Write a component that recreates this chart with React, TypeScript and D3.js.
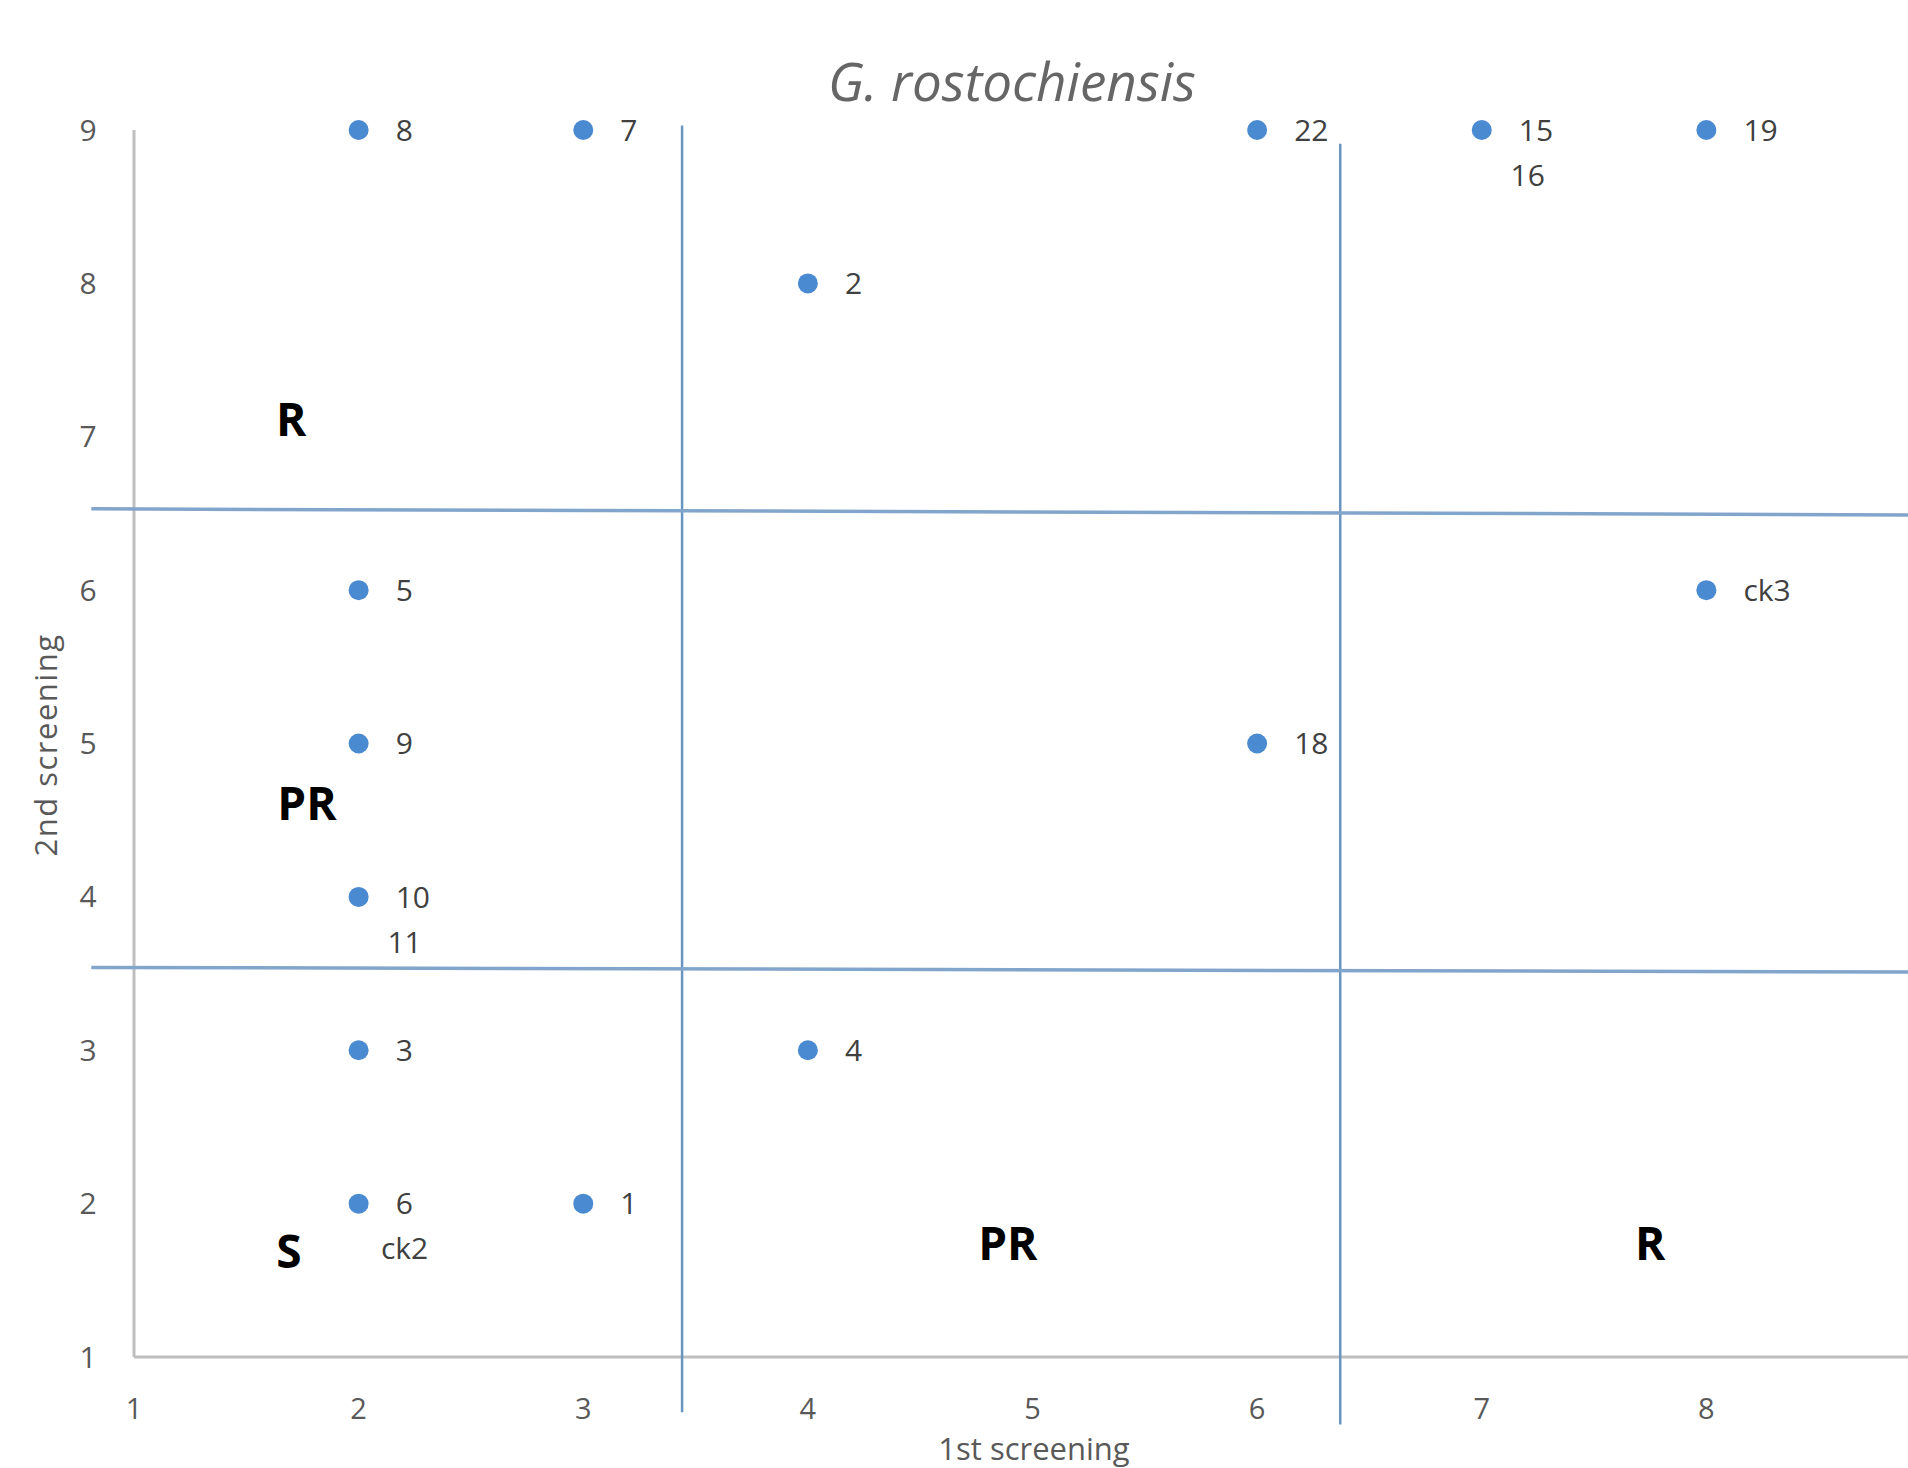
import React from "react";
import * as d3 from "d3";

const title = "G. rostochiensis";
const xTitle = "1st screening";
const yTitle = "2nd screening";

const pointX = [2, 3, 6, 7, 7, 8, 4, 2, 8, 2, 6, 2, 2, 2, 4, 2, 2, 3];
const pointY = [9, 9, 9, 9, 9, 9, 8, 6, 6, 5, 5, 4, 4, 3, 3, 2, 2, 2];
const pointLabels = ["8", "7", "22", "15", "16", "19", "2", "5", "ck3", "9", "18", "10", "11", "3", "4", "6", "ck2", "1"];

const xTicks = [1, 2, 3, 4, 5, 6, 7, 8];
const yTicks = [1, 2, 3, 4, 5, 6, 7, 8, 9];

// hand-drawn dividing lines (data coordinates)
const vLineX = [3.44, 6.37];
const vLineY0 = [0.64, 0.56];
const vLineY1 = [9.03, 8.91];
const hLineY0 = [6.53, 3.54];
const hLineY1 = [6.49, 3.51];

const regionLabels = ["R", "PR", "S", "PR", "R"];
const regionX = [1.7, 1.77, 1.69, 4.89, 7.75];
const regionY = [7.11, 4.61, 1.69, 1.74, 1.74];

const W = 1908;
const H = 1468;
const FONT = "'Open Sans', 'DejaVu Sans', sans-serif";

export default function App() {
  const x = d3.scaleLinear().domain([1, 9]).range([134, 1931]);
  const y = d3.scaleLinear().domain([1, 9]).range([1357, 130]);

  // group overlapping points so stacked labels go below
  const seen = new Map<string, number>();
  const pts = pointX.map((px, i) => {
    const key = px + "," + pointY[i];
    const n = seen.get(key) ?? 0;
    seen.set(key, n + 1);
    return { x: px, y: pointY[i], label: pointLabels[i], idx: n };
  });

  return (
    <svg width={W} height={H} style={{ position: "absolute", left: 0, top: 0, background: "#fff" }}>
      <rect width={W} height={H} fill="#fff" />
      {/* axes */}
      <line x1={x(1)} x2={x(1)} y1={y(9)} y2={y(1)} stroke="#bfbfbf" strokeWidth={3} />
      <line x1={x(1)} x2={W} y1={y(1)} y2={y(1)} stroke="#bfbfbf" strokeWidth={3} />
      {/* quadrant lines */}
      {vLineX.map((v, i) => (
        <line key={"v" + i} x1={x(v)} x2={x(v)} y1={y(vLineY1[i])} y2={y(vLineY0[i])} stroke="#6a95c0" strokeWidth={2.5} />
      ))}
      {hLineY0.map((v, i) => (
        <line key={"h" + i} x1={x(0.81)} x2={x(9)} y1={y(v)} y2={y(hLineY1[i])} stroke="#82a6cb" strokeWidth={3.5} />
      ))}
      {/* tick labels */}
      {xTicks.map((t) => (
        <text key={"xt" + t} x={x(t)} y={y(1) + 62} textAnchor="middle" fontFamily={FONT} fontSize={29} fill="#595959">
          {t}
        </text>
      ))}
      {yTicks.map((t) => (
        <text key={"yt" + t} x={88} y={y(t)} dy="0.35em" textAnchor="middle" fontFamily={FONT} fontSize={30} fill="#595959">
          {t}
        </text>
      ))}
      {/* axis titles */}
      <text x={1034} y={1460} textAnchor="middle" fontFamily={FONT} fontSize={31} fill="#595959">
        {xTitle}
      </text>
      <text transform={`translate(46,745) rotate(-90)`} dy="0.35em" textAnchor="middle" fontFamily={FONT} fontSize={31} letterSpacing={1.5} fill="#595959">
        {yTitle}
      </text>
      {/* title */}
      <text x={1012} y={101} textAnchor="middle" fontFamily={FONT} fontStyle="italic" fontSize={53} fill="#666666">
        {title}
      </text>
      {/* points */}
      {pts.filter((p) => p.idx === 0).map((p, i) => (
        <circle key={"c" + i} cx={x(p.x)} cy={y(p.y)} r={10} fill="#4a8ad0" />
      ))}
      {pts.map((p, i) =>
        p.idx === 0 ? (
          <text key={"l" + i} x={x(p.x) + 37} y={y(p.y)} dy="0.36em" fontFamily={FONT} fontSize={30} fill="#404040">
            {p.label}
          </text>
        ) : (
          <text key={"l" + i} x={x(p.x) + 46} y={y(p.y) + 45} dy="0.36em" textAnchor="middle" fontFamily={FONT} fontSize={30} fill="#404040">
            {p.label}
          </text>
        )
      )}
      {/* region labels */}
      {regionLabels.map((r, i) => (
        <text key={"r" + i} x={x(regionX[i])} y={y(regionY[i])} dy="0.36em" textAnchor="middle" fontFamily={FONT} fontWeight="bold" fontSize={46} fill="#000">
          {r}
        </text>
      ))}
    </svg>
  );
}
